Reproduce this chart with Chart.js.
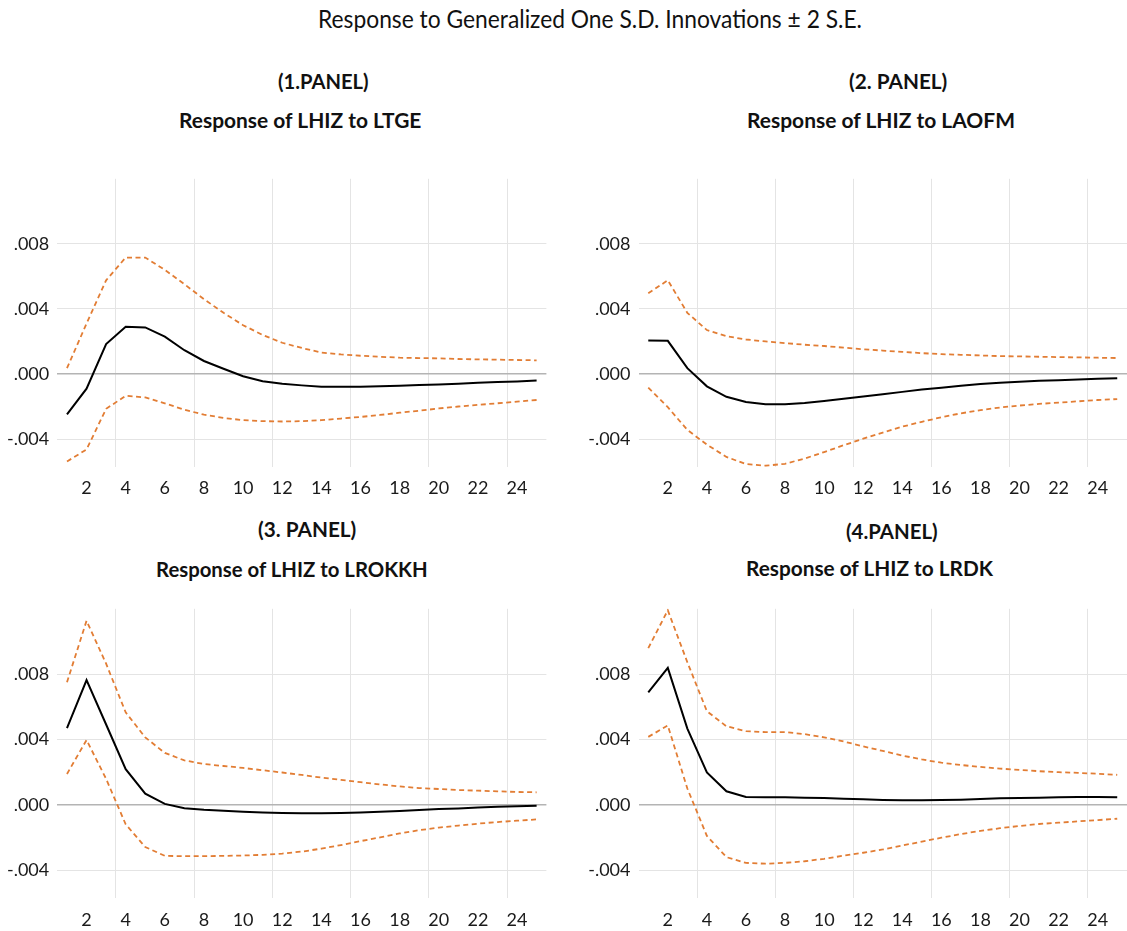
<!DOCTYPE html>
<html lang="en">
<head>
<meta charset="utf-8">
<title>Response of LHIZ</title>
<script src="https://cdn.jsdelivr.net/npm/chart.js@4.4.1/dist/chart.umd.min.js"></script>
<style>
  html, body { margin: 0; padding: 0; background: #fff; }
  body { width: 1127px; height: 931px; position: relative; overflow: hidden;
         font-family: Lato, 'Open Sans', sans-serif; color: #111; }
  .txt { position: absolute; white-space: nowrap; line-height: 1; transform-origin: 0 0; }
  canvas { position: absolute; }
</style>
</head>
<body>
<canvas id="panel1" width="560" height="340" style="left:0;top:160px"></canvas>
<canvas id="panel2" width="560" height="340" style="left:567px;top:160px"></canvas>
<canvas id="panel3" width="560" height="341" style="left:0;top:590px"></canvas>
<canvas id="panel4" width="560" height="341" style="left:567px;top:590px"></canvas>

<script>
// --------------------------------------------
// Daten: Impulsantworten von LHIZ (Perioden 1..25)
// --------------------------------------------
const horizons = [1, 2, 3, 4, 5, 6, 7, 8, 9, 10, 11, 12, 13, 14, 15, 16, 17, 18, 19, 20, 21, 22, 23, 24, 25];
const xTickValues = [2, 4, 6, 8, 10, 12, 14, 16, 18, 20, 22, 24];
const xGridValues = [3.5, 7.5, 11.5, 15.5, 19.5, 23.5];
const yTickValues = [-0.004, 0, 0.004, 0.008];

// LTGE
const ltgeResp = [-0.00248, -0.0009, 0.00184, 0.0029, 0.00286, 0.0023, 0.00146, 0.0008, 0.00032, -0.00014, -0.00044, -0.0006, -0.0007, -0.00078, -0.00078, -0.00078, -0.00076, -0.00072, -0.00068, -0.00064, -0.0006, -0.00054, -0.0005, -0.00046, -0.0004];
const ltgeUpper = [0.00036, 0.0031, 0.00576, 0.00716, 0.00716, 0.0064, 0.00552, 0.0046, 0.00376, 0.003, 0.0024, 0.00192, 0.0016, 0.00132, 0.0012, 0.00112, 0.00106, 0.001, 0.00098, 0.00096, 0.00092, 0.0009, 0.00088, 0.00086, 0.00084];
const ltgeLower = [-0.00538, -0.00464, -0.00214, -0.00134, -0.00144, -0.0018, -0.0022, -0.0025, -0.0027, -0.00284, -0.0029, -0.00292, -0.0029, -0.00284, -0.00274, -0.00264, -0.00252, -0.00238, -0.00226, -0.00212, -0.002, -0.0019, -0.0018, -0.0017, -0.0016];

// LAOFM
const laofmResp = [0.00206, 0.00204, 0.00036, -0.00076, -0.0014, -0.00172, -0.00186, -0.00186, -0.00178, -0.00166, -0.00152, -0.00138, -0.00124, -0.0011, -0.00096, -0.00084, -0.00072, -0.00062, -0.00054, -0.00048, -0.00042, -0.00038, -0.00034, -0.0003, -0.00026];
const laofmUpper = [0.00496, 0.00576, 0.00376, 0.0027, 0.00232, 0.00212, 0.002, 0.0019, 0.0018, 0.00172, 0.00162, 0.00152, 0.00144, 0.00136, 0.00128, 0.00122, 0.00118, 0.00114, 0.0011, 0.00108, 0.00106, 0.00104, 0.00102, 0.001, 0.00098];
const laofmLower = [-0.00084, -0.00204, -0.00344, -0.00434, -0.0051, -0.00554, -0.00564, -0.00552, -0.0052, -0.0048, -0.00438, -0.00398, -0.0036, -0.00324, -0.00294, -0.00266, -0.00242, -0.00222, -0.00206, -0.00194, -0.00184, -0.00176, -0.00168, -0.0016, -0.00154];

// LROKKH
const lrokkhResp = [0.0047, 0.00764, 0.00492, 0.00218, 0.00069, 0.00006, -0.0002, -0.0003, -0.00036, -0.00042, -0.00046, -0.0005, -0.00052, -0.00052, -0.0005, -0.00046, -0.00042, -0.00038, -0.00032, -0.00026, -0.00022, -0.00016, -0.00012, -0.00008, -0.00006];
const lrokkhUpper = [0.0075, 0.01127, 0.00864, 0.00566, 0.00413, 0.00318, 0.00272, 0.0025, 0.00238, 0.00226, 0.00212, 0.00198, 0.00183, 0.00167, 0.00153, 0.00139, 0.00125, 0.00113, 0.00103, 0.00097, 0.00091, 0.00087, 0.00083, 0.00079, 0.00077];
const lrokkhLower = [0.00189, 0.00397, 0.00159, -0.00119, -0.00258, -0.00312, -0.00314, -0.00314, -0.00312, -0.0031, -0.00306, -0.00298, -0.00286, -0.00268, -0.00246, -0.00222, -0.00199, -0.00175, -0.00155, -0.00139, -0.00127, -0.00115, -0.00105, -0.00097, -0.00089];

// LRDK
const lrdkResp = [0.00689, 0.00838, 0.00467, 0.00199, 0.00083, 0.00048, 0.00046, 0.00046, 0.00044, 0.00042, 0.00038, 0.00034, 0.0003, 0.00028, 0.00028, 0.0003, 0.00032, 0.00036, 0.0004, 0.00042, 0.00044, 0.00046, 0.00048, 0.00048, 0.00046];
const lrdkUpper = [0.00959, 0.01191, 0.00873, 0.00573, 0.00481, 0.00451, 0.00445, 0.00445, 0.00433, 0.00413, 0.00388, 0.00358, 0.0033, 0.00302, 0.00278, 0.00258, 0.00244, 0.00232, 0.00222, 0.00214, 0.00206, 0.002, 0.00196, 0.0019, 0.00184];
const lrdkLower = [0.00416, 0.00486, 0.001, -0.0019, -0.0032, -0.00355, -0.0036, -0.00355, -0.00345, -0.0033, -0.00311, -0.00293, -0.00273, -0.00249, -0.00225, -0.00201, -0.00179, -0.00159, -0.00143, -0.00129, -0.00117, -0.00109, -0.00101, -0.00093, -0.00085];


// --------------------------------------------
// Hilfsfunktionen
// --------------------------------------------
const ORANGE = '#E27D34';
const GRID = '#e4e4e4';
const FONT = 'Lato, "Open Sans", sans-serif';

// Überschriften als HTML-Text, horizontal auf eine feste Breite gestaucht
function placeText(text, cx, cy, size, weight, width) {
    const el = document.createElement('div');
    el.className = 'txt';
    el.textContent = text;
    el.style.fontSize = size + 'px';
    el.style.fontWeight = weight;
    document.body.appendChild(el);
    const natural = el.getBoundingClientRect().width;
    el.style.left = (cx - width / 2) + 'px';
    el.style.top = (cy - 0.53 * size) + 'px';
    el.style.transform = 'scaleX(' + (width / natural) + ')';
}

function pairs(values) {
    return values.map(function (v, i) {
        return { x: horizons[i], y: v };
    });
}

function formatY(value) {
    const s = Math.abs(value).toFixed(3).replace(/^0/, '');
    return value < 0 ? '-' + s : s;
}

function asTicks(values) {
    return values.map(function (v) { return { value: v }; });
}

// Ein Panel: Antwort (schwarz) und ±2 S.E.-Band (orange gestrichelt)
function panelZeichnen(canvasId, resp, upper, lower, area) {
    const band = {
        borderColor: ORANGE,
        borderWidth: 1.8,
        borderDash: [5, 3.5],
        pointRadius: 0,
        tension: 0,
        fill: false,
        xAxisID: 'x',
        yAxisID: 'y'
    };

    return new Chart(document.getElementById(canvasId), {
        type: 'line',
        data: {
            datasets: [
                Object.assign({ data: pairs(upper) }, band),
                Object.assign({ data: pairs(lower) }, band),
                {
                    data: pairs(resp),
                    borderColor: '#000',
                    borderWidth: 2,
                    pointRadius: 0,
                    tension: 0,
                    fill: false,
                    xAxisID: 'x',
                    yAxisID: 'y'
                }
            ]
        },
        options: {
            responsive: false,
            animation: false,
            devicePixelRatio: 1,
            layout: { padding: { left: 0, top: area.top, right: area.right, bottom: 0 } },
            plugins: {
                legend: { display: false },
                title: { display: false },
                tooltip: { enabled: false }
            },
            scales: {
                x: {
                    type: 'linear',
                    position: 'bottom',
                    min: 0.5,
                    max: 25.5,
                    grid: { display: false, drawTicks: false },
                    border: { display: false },
                    ticks: {
                        autoSkip: false,
                        maxRotation: 0,
                        padding: 11,
                        color: '#1a1a1a',
                        font: { family: FONT, size: 18 },
                        callback: function (value) { return String(value); }
                    },
                    afterBuildTicks: function (scale) { scale.ticks = asTicks(xTickValues); },
                    afterFit: function (scale) { scale.height = area.axisHeight; }
                },
                xGrid: {
                    type: 'linear',
                    position: 'bottom',
                    min: 0.5,
                    max: 25.5,
                    grid: { color: GRID, lineWidth: 1, drawTicks: false },
                    border: { display: false },
                    ticks: { display: false },
                    afterBuildTicks: function (scale) { scale.ticks = asTicks(xGridValues); },
                    afterFit: function (scale) { scale.height = 0; }
                },
                y: {
                    type: 'linear',
                    min: -0.0057,
                    max: 0.012,
                    grid: {
                        drawTicks: false,
                        color: function (c) { return c.tick && c.tick.value === 0 ? '#b4b4b4' : GRID; },
                        lineWidth: function (c) { return c.tick && c.tick.value === 0 ? 1.6 : 1; }
                    },
                    border: { display: false },
                    ticks: {
                        padding: 8,
                        color: '#1a1a1a',
                        font: { family: FONT, size: 18 },
                        callback: formatY
                    },
                    afterBuildTicks: function (scale) { scale.ticks = asTicks(yTickValues); },
                    afterFit: function (scale) { scale.width = area.left; }
                }
            }
        }
    });
}


// --------------------------------------------
// Titel
// --------------------------------------------
placeText('Response to Generalized One S.D. Innovations \u00B1 2 S.E.', 590, 19, 25, 400, 544);

placeText('(1.PANEL)', 323, 80.7, 21, 700, 90.6);
placeText('Response of LHIZ to LTGE', 300.5, 120, 21, 700, 242.4);
placeText('(2. PANEL)', 898, 80.8, 21, 700, 98.3);
placeText('Response of LHIZ to LAOFM', 881, 119.7, 21, 700, 268);
placeText('(3. PANEL)', 307, 529.5, 21, 700, 98.3);
placeText('Response of LHIZ to LROKKH', 292, 569.5, 21, 700, 271.7);
placeText('(4.PANEL)', 891.5, 530.8, 21, 700, 91.6);
placeText('Response of LHIZ to LRDK', 869, 568, 21, 700, 247);


// --------------------------------------------
// Diagramme
// --------------------------------------------
panelZeichnen('panel1', ltgeResp, ltgeUpper, ltgeLower, { left: 57.2, top: 13.3, right: 13.6, axisHeight: 33.3 });
panelZeichnen('panel2', laofmResp, laofmUpper, laofmLower, { left: 71.5, top: 13.3, right: 0, axisHeight: 33.3 });
panelZeichnen('panel3', lrokkhResp, lrokkhUpper, lrokkhLower, { left: 57.2, top: 14, right: 13.6, axisHeight: 33 });
panelZeichnen('panel4', lrdkResp, lrdkUpper, lrdkLower, { left: 71.5, top: 14, right: 0, axisHeight: 33 });
</script>
</body>
</html>
